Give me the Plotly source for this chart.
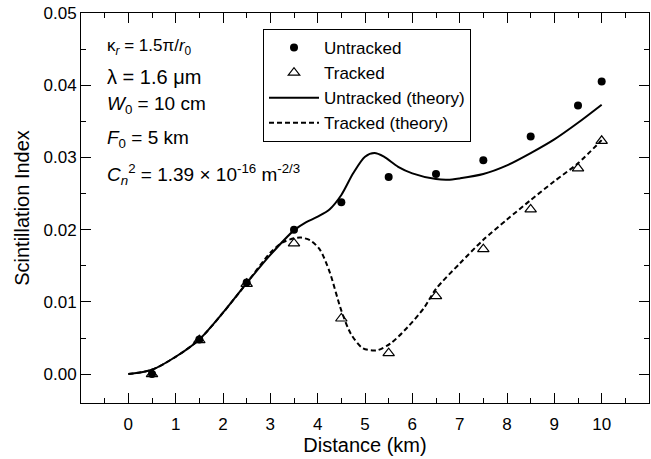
import plotly.graph_objects as go

# Measured data
dist_pts = [0.5, 1.5, 2.5, 3.5, 4.5, 5.5, 6.5, 7.5, 8.5, 9.5, 10.0]
untracked = [0.0000, 0.0048, 0.0127, 0.0200, 0.0238, 0.0273, 0.0277, 0.0296, 0.0329, 0.0372, 0.0405]
tracked = [0.0000, 0.0047, 0.0125, 0.0181, 0.0077, 0.0029, 0.0108, 0.0173, 0.0228, 0.0285, 0.0323]

# Theory curves
x_unt_th = [0, 0.5, 1, 1.5, 2, 2.5, 3, 3.5, 3.75, 4, 4.25, 4.5, 4.75, 5, 5.2, 5.4, 5.7, 6,
            6.5, 6.75, 7, 7.5, 8, 8.5, 9, 9.5, 10]
y_unt_th = [0.0000, 0.0006, 0.0024, 0.0048, 0.0085, 0.0126, 0.0165, 0.0199, 0.0210, 0.0218,
            0.0228, 0.0248, 0.0278, 0.0301, 0.0306, 0.0301, 0.0287, 0.0278, 0.0270, 0.0269,
            0.0271, 0.0277, 0.0289, 0.0306, 0.0325, 0.0348, 0.0373]

x_trk_th = [0, 0.5, 1, 1.5, 2, 2.5, 3, 3.25, 3.5, 3.65, 3.85, 4.05, 4.25, 4.5, 4.7, 4.95,
            5.25, 5.55, 5.9, 6.25, 6.5, 7, 7.5, 8, 8.5, 9, 9.5, 10]
y_trk_th = [0.0000, 0.0006, 0.0024, 0.0048, 0.0085, 0.0126, 0.0168, 0.0182, 0.0188, 0.0189,
            0.0185, 0.0172, 0.0142, 0.0088, 0.0056, 0.0036, 0.0033, 0.0043, 0.0065, 0.0092,
            0.0118, 0.0153, 0.0186, 0.0214, 0.0241, 0.0267, 0.0292, 0.0324]

x_ticks = list(range(0, 11))
x_minor = [-0.5 + i for i in range(12)]
y_ticks = [0.00, 0.01, 0.02, 0.03, 0.04, 0.05]
y_ticktext = ["0.00", "0.01", "0.02", "0.03", "0.04", "0.05"]
y_minor = [0.005, 0.015, 0.025, 0.035, 0.045]

params = [
    "κ<sub><i>r</i></sub> = 1.5π/<i>r</i><sub>0</sub>",
    "λ = 1.6 μm",
    "<i>W</i><sub>0</sub> = 10 cm",
    "<i>F</i><sub>0</sub> = 5 km",
    "<i>C<sub>n</sub></i><sup>2</sup> = 1.39 × 10<sup>-16</sup> m<sup>-2/3</sup>",
]
param_ypx = [47, 77, 105, 139, 174]
param_size = [17, 20, 19, 19, 19]

FONT = "Arial, Liberation Sans, sans-serif"

fig = go.Figure()
fig.add_trace(go.Scatter(x=dist_pts, y=untracked, mode="markers", name="Untracked",
                         marker=dict(symbol="circle", size=8, color="black")))
fig.add_trace(go.Scatter(x=dist_pts, y=tracked, mode="markers", name="Tracked",
                         marker=dict(symbol="triangle-up-open", size=10, color="black",
                                     line=dict(width=1.2, color="black"))))
fig.add_trace(go.Scatter(x=x_unt_th, y=y_unt_th, mode="lines", name="Untracked (theory)",
                         line=dict(color="black", width=2, shape="spline", smoothing=0.8)))
fig.add_trace(go.Scatter(x=x_trk_th, y=y_trk_th, mode="lines", name="Tracked (theory)",
                         line=dict(color="black", width=2, dash="5px,3px", shape="spline",
                                   smoothing=0.8)))

plot_top, plot_bottom = 13, 403
for txt, ypx, sz in zip(params, param_ypx, param_size):
    fig.add_annotation(text=txt, xref="paper", yref="paper", x=(105 - 81) / 568,
                       y=(plot_bottom - ypx) / (plot_bottom - plot_top),
                       xanchor="left", yanchor="middle", showarrow=False,
                       font=dict(family=FONT, size=sz, color="black"))

axis_common = dict(showline=True, linecolor="black", linewidth=1, mirror="allticks",
                   ticks="inside", ticklen=10, tickwidth=1, tickcolor="black",
                   showgrid=False, zeroline=False,
                   tickfont=dict(family=FONT, size=17, color="black"))

fig.update_xaxes(range=[-1, 11], tickvals=x_ticks, ticklabelstandoff=6,
                 minor=dict(tickvals=x_minor, ticklen=5, ticks="inside", tickcolor="black"),
                 title=dict(text="Distance (km)", font=dict(family=FONT, size=20, color="black"),
                            standoff=4),
                 **axis_common)
fig.update_yaxes(range=[-0.004, 0.05], tickvals=y_ticks, ticktext=y_ticktext,
                 minor=dict(tickvals=y_minor, ticklen=5, ticks="inside", tickcolor="black"),
                 title=dict(text="Scintillation Index", font=dict(family=FONT, size=20, color="black"),
                            standoff=8),
                 **axis_common)

fig.update_layout(
    width=651, height=459,
    margin=dict(l=81, r=2, t=13, b=56),
    paper_bgcolor="white", plot_bgcolor="white",
    font=dict(family=FONT, color="black"),
    showlegend=True,
    legend=dict(x=(263 - 81) / 568, y=(403 - 29) / 390, xanchor="left", yanchor="top",
                bordercolor="black", borderwidth=1, bgcolor="white",
                font=dict(family=FONT, size=17, color="black"),
                tracegroupgap=0, itemwidth=50),
)

fig.write_html("out.html", config={"displayModeBar": False},
               post_script="document.body.style.margin='0';")
